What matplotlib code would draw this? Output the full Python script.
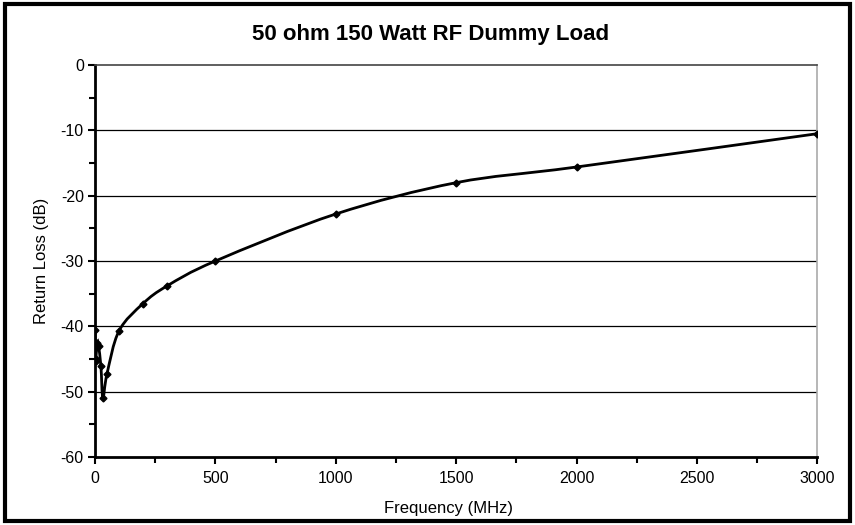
import matplotlib.pyplot as plt
import numpy as np
from matplotlib.path import Path
from matplotlib.patches import PathPatch, Rectangle
from matplotlib.ticker import MultipleLocator

plt.rcParams['font.family'] = ['Liberation Sans', 'DejaVu Sans']
plt.rcParams['axes.unicode_minus'] = False

# Measured return loss of the dummy load
freq_mhz = [1, 2, 3, 10, 15, 25, 33, 50, 100, 200, 300, 500, 1000, 1500, 2000, 3000]
return_loss_db = [-40.5, -44.8, -45.3, -42.5, -43.0, -46.1, -51.0, -47.3,
                  -40.7, -36.5, -33.8, -30.0, -22.8, -18.0, -15.6, -10.5]

title = "50 ohm 150 Watt RF Dummy Load"
xlabel = "Frequency (MHz)"
ylabel = "Return Loss (dB)"


def smooth_path(x, y):
    # Excel-style smoothed line: cubic bezier segments through every point
    pts = np.column_stack([x, y]).astype(float)
    n = len(pts)
    verts = [pts[0]]
    codes = [Path.MOVETO]
    for i in range(n - 1):
        p0 = pts[i - 1] if i > 0 else pts[i]
        p1 = pts[i]
        p2 = pts[i + 1]
        p3 = pts[i + 2] if i + 2 < n else pts[i + 1]
        c1 = p1 + (p2 - p0) / 6.0
        c2 = p2 - (p3 - p1) / 6.0
        verts += [c1, c2, p2]
        codes += [Path.CURVE4] * 3
    return Path(verts, codes)


fig = plt.figure(figsize=(8.55, 5.25), dpi=100)
ax = fig.add_axes([0.111, 0.1295, 0.845, 0.7465])

ax.add_patch(PathPatch(smooth_path(freq_mhz, return_loss_db), facecolor='none',
                       edgecolor='black', lw=2.0, zorder=3))
ax.plot(freq_mhz, return_loss_db, linestyle='none', marker='D', ms=3.5,
        color='black', zorder=4)

ax.set_xlim(0, 3000)
ax.set_ylim(-60, 0)
ax.xaxis.set_major_locator(MultipleLocator(500))
ax.xaxis.set_minor_locator(MultipleLocator(250))
ax.yaxis.set_major_locator(MultipleLocator(10))
ax.yaxis.set_minor_locator(MultipleLocator(5))
ax.tick_params(which='major', direction='out', length=5, width=1.5, labelsize=11.5)
ax.tick_params(which='minor', direction='out', length=4, width=1.5)
ax.tick_params(axis='x', pad=5)
ax.tick_params(axis='y', pad=3)

for v in range(-50, 0, 10):
    ax.axhline(v, color='black', lw=0.9, zorder=1)

ax.spines['left'].set_linewidth(2)
ax.spines['bottom'].set_linewidth(2)
ax.spines['top'].set_color('#444444')
ax.spines['top'].set_linewidth(1.2)
ax.spines['right'].set_color('#aaaaaa')
ax.spines['right'].set_linewidth(1.2)

# title is centred on the whole chart, not on the plot area
fig.text(0.503, 0.934, title, fontsize=16, fontweight='bold',
         ha='center', va='center')
ax.set_xlabel(xlabel, fontsize=12)
ax.xaxis.set_label_coords(0.489, -0.113)
ax.xaxis.label.set_va('top')
ax.set_ylabel(ylabel, fontsize=12, labelpad=8)

fig.patches.append(Rectangle((0.006, 0.008), 0.988, 0.984, transform=fig.transFigure,
                             fill=False, edgecolor='black', lw=3))

fig.savefig('out.png', dpi=100)
